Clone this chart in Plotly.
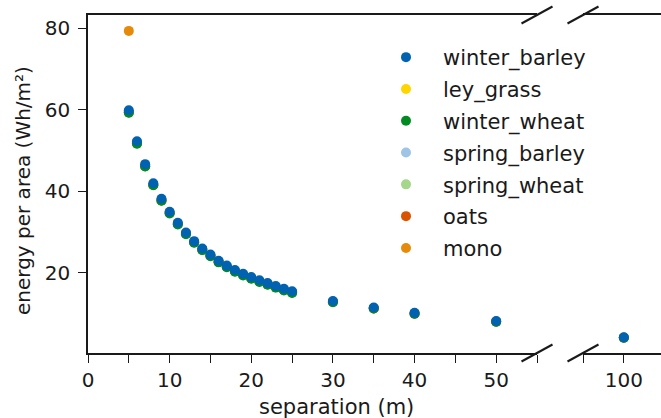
import numpy as np
import plotly.graph_objects as go

separation = [5, 6, 7, 8, 9, 10, 11, 12, 13, 14, 15, 16, 17, 18, 19, 20,
              21, 22, 23, 24, 25, 30, 35, 40, 50, 100]
winter_barley = [59.8, 52.2, 46.6, 41.9, 38.1, 34.9, 32.2, 29.8, 27.7, 25.9, 24.4, 22.9, 21.7,
                 20.6, 19.7, 18.9, 18.1, 17.4, 16.7, 16.0, 15.4, 13.0, 11.4, 10.1, 8.1, 4.1]
ley_grass = [59.4, 51.8, 46.2, 41.5, 37.7, 34.6, 31.9, 29.5, 27.4, 25.6, 24.1, 22.6, 21.4,
             20.3, 19.4, 18.6, 17.8, 17.1, 16.4, 15.7, 15.1, 12.8, 11.2, 9.9, 7.9, 4.0]
winter_wheat = [59.2, 51.6, 46.0, 41.4, 37.6, 34.5, 31.8, 29.4, 27.3, 25.5, 24.0, 22.5, 21.3,
                20.2, 19.3, 18.5, 17.7, 17.0, 16.3, 15.6, 15.0, 12.7, 11.2, 9.9, 7.9, 4.0]
spring_barley = [59.5, 51.9, 46.3, 41.6, 37.8, 34.7, 32.0, 29.6, 27.5, 25.7, 24.2, 22.7, 21.5,
                 20.4, 19.5, 18.7, 17.9, 17.2, 16.5, 15.8, 15.2, 12.9, 11.3, 10.0, 8.0, 4.0]
spring_wheat = [59.3, 51.7, 46.1, 41.5, 37.7, 34.6, 31.9, 29.5, 27.4, 25.6, 24.1, 22.6, 21.4,
                20.3, 19.4, 18.6, 17.8, 17.1, 16.4, 15.7, 15.1, 12.8, 11.2, 9.9, 7.9, 4.0]
oats = [59.3, 51.7, 46.1, 41.5, 37.7, 34.6, 31.9, 29.5, 27.4, 25.6, 24.1, 22.6, 21.4,
        20.3, 19.4, 18.6, 17.8, 17.1, 16.4, 15.7, 15.1, 12.8, 11.2, 9.9, 7.9, 4.0]
mono_separation = [5]
mono = [79.3]

x_ticks_left = [0, 5, 10, 15, 20, 25, 30, 35, 40, 45, 50, 55]
x_ticks_right = [95, 100, 105]
y_ticks = [20, 40, 60, 80]

series = [
    ("winter_barley", separation, winter_barley, "#0062B0"),
    ("ley_grass", separation, ley_grass, "#FFD500"),
    ("winter_wheat", separation, winter_wheat, "#008C20"),
    ("spring_barley", separation, spring_barley, "#9FC5E6"),
    ("spring_wheat", separation, spring_wheat, "#A6D68A"),
    ("oats", separation, oats, "#D95300"),
    ("mono", mono_separation, mono, "#E68A0A"),
]

W, H = 661, 418
ML, MR, MT, MB = 88, 0, 15, 65
PW, PH = W - ML - MR, H - MT - MB

def px_x(p):
    return (p - ML) / PW

def px_y(p):
    return (H - MB - p) / PH

left_end_px, right_start_px = 537, 583
dom1 = [0, px_x(left_end_px)]
dom2 = [px_x(right_start_px), 1]
xr1 = [0, 55]
scale = (left_end_px - ML) / (xr1[1] - xr1[0])
xr2 = [95, 95 + (W - MR - right_start_px) / scale]

FONT = "DejaVu Sans"
fig = go.Figure()

# draw order: winter_barley last so it lies on top
draw_order = [1, 3, 4, 5, 6, 2, 0]
for idx in draw_order:
    name, xs, ys, col = series[idx]
    xs = np.array(xs, dtype=float)
    ys = np.array(ys, dtype=float)
    m1 = xs <= xr1[1]
    m2 = xs >= xr2[0]
    fig.add_trace(go.Scatter(x=xs[m1], y=ys[m1], mode="markers", name=name,
                             marker=dict(color=col, size=10, line=dict(width=0)),
                             legendgroup=name, legendrank=idx + 1,
                             xaxis="x", yaxis="y", showlegend=True))
    if m2.any():
        fig.add_trace(go.Scatter(x=xs[m2], y=ys[m2], mode="markers", name=name,
                                 marker=dict(color=col, size=10, line=dict(width=0)),
                                 legendgroup=name, legendrank=idx + 1,
                                 xaxis="x2", yaxis="y", showlegend=False))

axis_common = dict(showline=True, linecolor="#1a1a1a", linewidth=1.5,
                   ticks="outside", ticklen=8, tickwidth=1.3, tickcolor="#1a1a1a",
                   showgrid=False, zeroline=False,
                   tickfont=dict(family=FONT, size=20, color="#1a1a1a"))

fig.update_layout(
    width=W, height=H,
    margin=dict(l=ML, r=MR, t=MT, b=MB),
    paper_bgcolor="white", plot_bgcolor="white",
    font=dict(family=FONT, size=20, color="#1a1a1a"),
    xaxis=dict(domain=dom1, range=xr1, anchor="y", mirror=True,
               tickvals=x_ticks_left,
               ticktext=[str(v) if v % 10 == 0 else "" for v in x_ticks_left],
               **axis_common),
    xaxis2=dict(domain=dom2, range=xr2, anchor="y", mirror=True,
                tickvals=x_ticks_right,
                ticktext=[str(v) if v % 10 == 0 else "" for v in x_ticks_right],
                **axis_common),
    yaxis=dict(domain=[0, 1], range=[0.25, 83.2], anchor="x",
               tickvals=y_ticks, ticklabelstandoff=4, **axis_common),
    legend=dict(x=px_x(369), y=px_y(37), xanchor="left", yanchor="top",
                bgcolor="rgba(0,0,0,0)", itemwidth=64, tracegroupgap=1.5,
                font=dict(family=FONT, size=21, color="#1a1a1a")),
    showlegend=True,
)

# axis labels
fig.add_annotation(text="separation (m)", xref="paper", yref="paper",
                   x=px_x(336), y=px_y(407), xanchor="center", yanchor="middle",
                   showarrow=False, font=dict(family=FONT, size=21, color="#1a1a1a"))
fig.add_annotation(text="energy per area (Wh/m²)", xref="paper", yref="paper",
                   x=px_x(23), y=px_y(191), xanchor="center", yanchor="middle",
                   textangle=-90, showarrow=False,
                   font=dict(family=FONT, size=20, color="#1a1a1a"))

# break marks
dx, dy = 15.5, 8.5
for cx in (left_end_px, right_start_px):
    for cy in (MT, H - MB):
        fig.add_shape(type="line", xref="paper", yref="paper",
                      x0=px_x(cx - dx), y0=px_y(cy + dy),
                      x1=px_x(cx + dx), y1=px_y(cy - dy),
                      line=dict(color="#1a1a1a", width=2))

fig.write_html("out.html")
